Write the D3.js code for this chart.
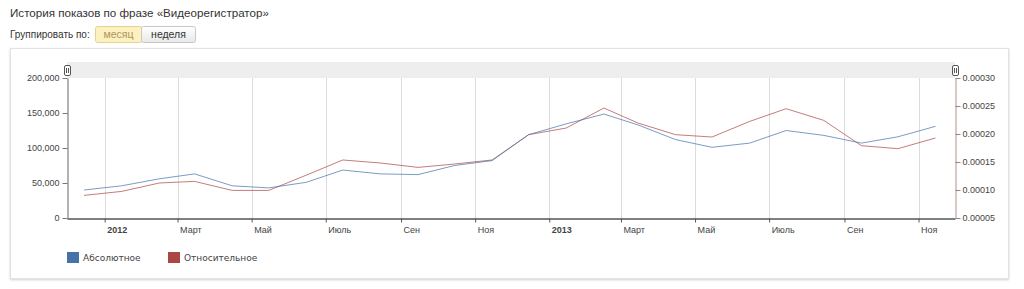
<!DOCTYPE html>
<html>
<head>
<meta charset="utf-8">
<script src="https://cdnjs.cloudflare.com/ajax/libs/d3/7.8.5/d3.min.js"></script>
<style>
  body { margin: 0; background: #fff; }
  #viz { position: relative; width: 1024px; height: 289px; }
</style>
</head>
<body>
<div id="viz"></div>
<script>
var width = 1024,
    height = 289;

// данные: середина каждого месяца, дек 2011 - ноя 2013
var months = ['2011-12', '2012-01', '2012-02', '2012-03', '2012-04', '2012-05', '2012-06',
  '2012-07', '2012-08', '2012-09', '2012-10', '2012-11', '2012-12', '2013-01', '2013-02',
  '2013-03', '2013-04', '2013-05', '2013-06', '2013-07', '2013-08', '2013-09', '2013-10', '2013-11'];
var absolute = [40000, 46000, 56000, 63000, 46000, 43000, 51000, 68500, 63000, 62000, 75000, 82000,
  119000, 134500, 148500, 133000, 112000, 101000, 107000, 125000, 118000, 107000, 116000, 131000];
var relative = [0.0000904, 0.0000975, 0.0001125, 0.0001154, 0.0000993, 0.0000993, 0.0001265,
  0.0001536, 0.0001482, 0.0001404, 0.0001464, 0.0001536, 0.0001988, 0.0002107, 0.0002464,
  0.0002196, 0.0001988, 0.0001946, 0.0002225, 0.0002452, 0.0002243, 0.0001791, 0.0001738, 0.0001929];

var monthNames = ['Янв', 'Фев', 'Март', 'Апр', 'Май', 'Июнь', 'Июль', 'Авг', 'Сен', 'Окт', 'Ноя', 'Дек'];
var leftTicks = [0, 50000, 100000, 150000, 200000];
var rightTicks = [0.00005, 0.0001, 0.00015, 0.0002, 0.00025, 0.0003];
var seriesNames = ['Абсолютное', 'Относительное'];

var azul = '#4572A7',
    rojo = '#AA4643';

var parse = d3.timeParse('%Y-%m-%d');
var fechas = months.map(function(m) { return parse(m + '-15'); });

var svg = d3.select('#viz')
  .append('svg')
  .attr('width', width)
  .attr('height', height)
  .style('font-family', 'Verdana, "DejaVu Sans", sans-serif');

// шапка
svg.append('text')
  .attr('x', 10)
  .attr('y', 17)
  .style('font-family', 'Arial, "Liberation Sans", sans-serif')
  .style('font-size', '11.6px')
  .attr('fill', '#333')
  .text('История показов по фразе «Видеорегистратор»');

svg.append('text')
  .attr('x', 10)
  .attr('y', 38)
  .style('font-family', 'Arial, "Liberation Sans", sans-serif')
  .style('font-size', '10px')
  .attr('fill', '#333')
  .text('Группировать по:');

var defs = svg.append('defs');
var grad = defs.append('linearGradient')
  .attr('id', 'btn')
  .attr('x1', 0).attr('y1', 0).attr('x2', 0).attr('y2', 1);
grad.append('stop').attr('offset', '0%').attr('stop-color', '#ffffff');
grad.append('stop').attr('offset', '100%').attr('stop-color', '#e8e8e8');

var shadow = defs.append('filter').attr('id', 'shadow')
  .attr('x', '-2%').attr('y', '-5%').attr('width', '104%').attr('height', '112%');
shadow.append('feDropShadow')
  .attr('dx', 0).attr('dy', 1).attr('stdDeviation', 1.2)
  .attr('flood-color', '#000').attr('flood-opacity', 0.18);

// кнопки
svg.append('rect')
  .attr('x', 95.5).attr('y', 26.5).attr('width', 46).attr('height', 16).attr('rx', 2)
  .attr('fill', '#fdf1c0').attr('stroke', '#e3d291');
svg.append('text')
  .attr('x', 118.5).attr('y', 38)
  .attr('text-anchor', 'middle')
  .style('font-family', 'Arial, "Liberation Sans", sans-serif')
  .style('font-size', '10.5px')
  .attr('fill', '#a9955a')
  .text('месяц');
svg.append('rect')
  .attr('x', 141.5).attr('y', 26.5).attr('width', 54).attr('height', 16).attr('rx', 2)
  .attr('fill', 'url(#btn)').attr('stroke', '#c8c8c8');
svg.append('text')
  .attr('x', 168.5).attr('y', 38)
  .attr('text-anchor', 'middle')
  .style('font-family', 'Arial, "Liberation Sans", sans-serif')
  .style('font-size', '10.5px')
  .attr('fill', '#333')
  .text('неделя');

// панель
svg.append('rect')
  .attr('x', 10.5).attr('y', 48.5).attr('width', 998).attr('height', 230)
  .attr('fill', '#fff').attr('stroke', '#e2e2e2')
  .attr('filter', 'url(#shadow)');

var pLeft = 67, pRight = 955, pTop = 78, pBottom = 218;

var x = d3.scaleTime()
  .domain([parse('2011-12-01'), parse('2013-12-01')])
  .range([pLeft, pRight]);
var yL = d3.scaleLinear().domain([0, 200000]).range([pBottom, pTop]);
var yR = d3.scaleLinear().domain([0.00005, 0.0003]).range([pBottom, pTop]);

var tickDates = d3.timeMonth.every(2).range(parse('2012-01-01'), parse('2013-12-01'));

// полоса прокрутки
svg.append('rect')
  .attr('x', pLeft).attr('y', 62).attr('width', pRight - pLeft).attr('height', pTop - 62)
  .attr('fill', '#eeeeee');

// сетка
svg.append('g')
  .selectAll('line')
  .data(tickDates)
  .enter().append('line')
  .attr('x1', function(d) { return Math.round(x(d)) + 0.5; })
  .attr('x2', function(d) { return Math.round(x(d)) + 0.5; })
  .attr('y1', pTop)
  .attr('y2', pBottom)
  .attr('stroke', '#dcdcdc');

// оси
var gx = svg.append('g')
  .attr('transform', 'translate(0,' + (pBottom + 0.5) + ')')
  .call(d3.axisBottom(x).tickValues(tickDates).tickSize(4).tickSizeOuter(0)
    .tickFormat(function(d) { return d.getMonth() === 0 ? d.getFullYear() : monthNames[d.getMonth()]; }));
gx.select('.domain').attr('stroke', '#555').attr('stroke-width', 1.5);
gx.selectAll('.tick line').attr('stroke', '#555');
gx.selectAll('.tick text')
  .attr('text-anchor', 'start')
  .attr('x', 2)
  .attr('y', 8)
  .attr('fill', '#444')
  .style('font-size', '9px')
  .style('font-weight', function(d) { return d.getMonth() === 0 ? 'bold' : 'normal'; });

var gl = svg.append('g')
  .attr('transform', 'translate(' + (pLeft + 0.5) + ',0)')
  .call(d3.axisLeft(yL).tickValues(leftTicks).tickSize(5).tickSizeOuter(0).tickFormat(d3.format(',')));
gl.select('.domain').attr('stroke', '#666');
gl.selectAll('.tick line').attr('stroke', '#777');
gl.selectAll('.tick text').attr('fill', '#444').attr('x', -8).style('font-size', '9px');

var gr = svg.append('g')
  .attr('transform', 'translate(' + (pRight + 0.5) + ',0)')
  .call(d3.axisRight(yR).tickValues(rightTicks).tickSize(5).tickSizeOuter(0).tickFormat(d3.format('.5f')));
gr.select('.domain').attr('stroke', '#b88c8c');
gr.selectAll('.tick line').attr('stroke', '#888');
gr.selectAll('.tick text').attr('fill', '#444').attr('x', 7).style('font-size', '9px');

// линии
var lineAbs = d3.line()
  .x(function(d, i) { return x(fechas[i]); })
  .y(function(d) { return yL(d); });
var lineRel = d3.line()
  .x(function(d, i) { return x(fechas[i]); })
  .y(function(d) { return yR(d); });

svg.append('path')
  .datum(relative)
  .attr('d', lineRel)
  .attr('fill', 'none')
  .attr('stroke', rojo)
  .attr('stroke-opacity', 0.7)
  .attr('stroke-width', 1);

svg.append('path')
  .datum(absolute)
  .attr('d', lineAbs)
  .attr('fill', 'none')
  .attr('stroke', azul)
  .attr('stroke-opacity', 0.7)
  .attr('stroke-width', 1);

// ползунки
[pLeft, pRight].forEach(function(hx) {
  var h = svg.append('g');
  h.append('rect')
    .attr('x', hx - 2.5).attr('y', 65.5).attr('width', 6).attr('height', 10).attr('rx', 1.5)
    .attr('fill', '#fff').attr('stroke', '#555');
  h.append('line').attr('x1', hx - 0.5).attr('x2', hx - 0.5).attr('y1', 68).attr('y2', 73).attr('stroke', '#555');
  h.append('line').attr('x1', hx + 1.5).attr('x2', hx + 1.5).attr('y1', 68).attr('y2', 73).attr('stroke', '#555');
});

// легенда
var legend = svg.append('g')
  .selectAll('g')
  .data(seriesNames)
  .enter().append('g')
  .attr('transform', function(d, i) { return 'translate(' + (67 + i * 101) + ',252)'; });
legend.append('rect')
  .attr('width', 12).attr('height', 11)
  .attr('fill', function(d, i) { return i === 0 ? azul : rojo; });
legend.append('text')
  .attr('x', 16)
  .attr('y', 9)
  .attr('fill', '#444')
  .style('font-size', '9px')
  .text(function(d) { return d; });
</script>
</body>
</html>
